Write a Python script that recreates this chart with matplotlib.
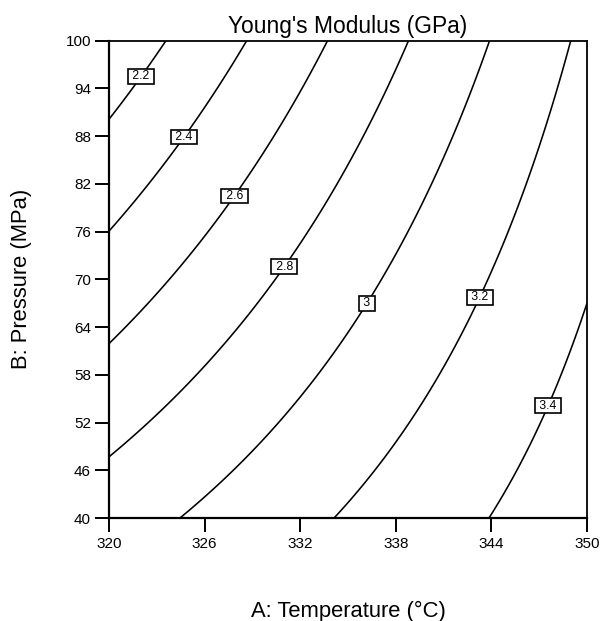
import numpy as np
import matplotlib
matplotlib.use("Agg")
import matplotlib.pyplot as plt

plt.rcParams['font.family'] = ['Liberation Sans', 'DejaVu Sans']

# Axis ranges and ticks
temp_range = (320, 350)
press_range = (40, 100)
temp_ticks = [320, 326, 332, 338, 344, 350]
press_ticks = [40, 46, 52, 58, 64, 70, 76, 82, 88, 94, 100]

# Contour levels
levels = [2.2, 2.4, 2.6, 2.8, 3.0, 3.2, 3.4]
level_labels = ["2.2", "2.4", "2.6", "2.8", "3", "3.2", "3.4"]

# Points (Temperature, Pressure)
pts_22_T = [320.0, 321.88, 323.68]
pts_22_P = [89.8, 95.7, 100.0]
pts_24_T = [320.0, 324.6, 328.75]
pts_24_P = [75.9, 88.1, 100.0]
pts_26_T = [320.0, 327.6, 327.74, 333.77]
pts_26_P = [61.8, 79.94, 80.7, 100.0]
pts_28_T = [320.0, 324.04, 325.29, 330.86, 333.87, 338.83]
pts_28_P = [47.76, 54.8, 57.3, 71.8, 79.94, 100.0]
pts_30_T = [324.35, 331.88, 332.93, 333.87, 336.03, 339.94, 343.85]
pts_30_P = [40.0, 54.8, 57.3, 59.8, 67.17, 79.94, 100.0]
pts_32_T = [334.05, 339.84, 340.57, 343.08, 345.9, 348.9]
pts_32_P = [40.0, 54.8, 57.3, 67.9, 79.94, 100.0]
pts_34_T = [343.8, 347.41, 347.85, 348.3, 350.0]
pts_34_P = [40.0, 54.26, 54.8, 57.3, 66.88]

# Label positions
label_T = [321.88, 324.6, 327.74, 330.86, 336.03, 343.08, 347.41]
label_P = [95.7, 88.1, 80.7, 71.8, 67.17, 67.9, 54.26]

# ---- fit quadratic response surface to the contour points ----
Ts = [pts_22_T, pts_24_T, pts_26_T, pts_28_T, pts_30_T, pts_32_T, pts_34_T]
Ps = [pts_22_P, pts_24_P, pts_26_P, pts_28_P, pts_30_P, pts_32_P, pts_34_P]
allT, allP, allZ = [], [], []
for lv, t, p in zip(levels, Ts, Ps):
    allT += t
    allP += p
    allZ += [lv] * len(t)
allT = np.array(allT); allP = np.array(allP); allZ = np.array(allZ)

def basis(T, P):
    a = (T - 335.0) / 15.0
    b = (P - 70.0) / 30.0
    return np.stack([np.ones_like(a), a, b, a * b, a * a, b * b], axis=-1)

coef, *_ = np.linalg.lstsq(basis(allT, allP), allZ, rcond=None)

tg = np.linspace(temp_range[0], temp_range[1], 300)
pg = np.linspace(press_range[0], press_range[1], 300)
TT, PP = np.meshgrid(tg, pg)
ZZ = basis(TT, PP) @ coef

W, H = 601, 621
fig = plt.figure(figsize=(W / 100, H / 100), dpi=100)
ax = fig.add_axes([109 / W, 1 - 518 / H, (587 - 109) / W, (518 - 40.7) / H])

cs = ax.contour(TT, PP, ZZ, levels=levels, colors='black', linewidths=1.15)
fmt = {lv: " " + s + " " for lv, s in zip(levels, level_labels)}
texts = ax.clabel(cs, levels=levels, inline=False, fmt=fmt, fontsize=8.8,
                  manual=list(zip(label_T, label_P)))
for t in texts:
    t.set_rotation(0)
    t.set_zorder(5)
    t.set_bbox(dict(boxstyle='square,pad=0.1', facecolor='white',
                    edgecolor='black', linewidth=1.2))

ax.set_xlim(*temp_range)
ax.set_ylim(*press_range)
ax.set_xticks(temp_ticks)
ax.set_yticks(press_ticks)
ax.tick_params(direction='out', length=10, width=1.4, labelsize=11)
ax.tick_params(axis='x', pad=4)
ax.tick_params(axis='y', pad=3)
for s in ['left', 'bottom']:
    ax.spines[s].set_linewidth(1.6)
for s in ['top', 'right']:
    ax.spines[s].set_linewidth(1.3)

fig.text(348 / W, 1 - 33 / H, "Young's Modulus (GPa)", ha='center', va='baseline', fontsize=16.4)
fig.text(348 / W, 1 - 616.5 / H, "A: Temperature (\u00b0C)", ha='center', va='baseline', fontsize=15.8)
fig.text(27 / W, 1 - 279 / H, "B: Pressure (MPa)", ha='center', va='baseline',
         rotation=90, rotation_mode='anchor', fontsize=15.8)

fig.savefig("out.png", dpi=100)
